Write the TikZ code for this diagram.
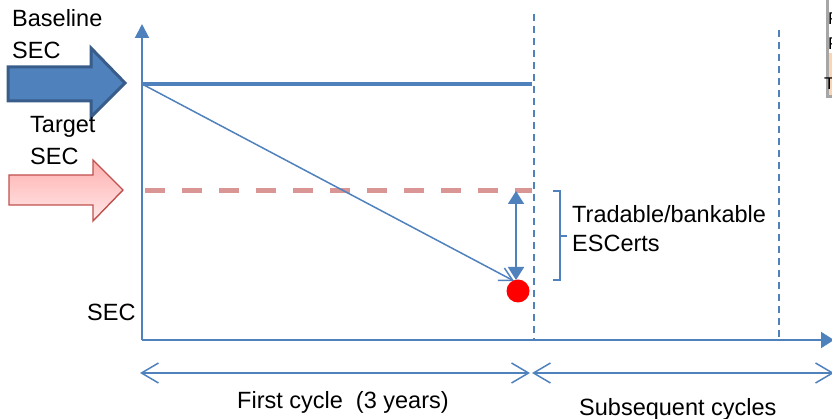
\documentclass[tikz,border=0pt]{standalone}
\usepackage{fontspec}
\setmainfont{Liberation Sans}
\usetikzlibrary{calc,positioning,arrows.meta}
\definecolor{axisblue}{HTML}{4F81BD}
\definecolor{darkblue}{HTML}{385D8A}
\definecolor{targetred}{HTML}{C0504D}
\definecolor{targetpink}{HTML}{D99694}
\definecolor{pinktop}{HTML}{FFAFAF}
\definecolor{pinkbot}{HTML}{FFE8E8}
\definecolor{peach}{HTML}{FCD5B4}
\definecolor{boxgray}{HTML}{A6A6A6}

\begin{document}
\begin{tikzpicture}[x=1pt,y=-1pt,
    font=\fontsize{23.5}{28}\selectfont,
    lbl/.style={anchor=base west, inner sep=0pt},
    axisline/.style={axisblue, line width=2pt},
    cycleline/.style={axisblue, line width=1.6pt, dash pattern=on 7pt off 5pt},
    spanarrow/.style={axisblue, line width=1.5pt,
        {Straight Barb[length=17pt,width=20pt]}-{Straight Barb[length=17pt,width=20pt]}}]
    \pgfmathsetmacro{\ax}{142}
    \pgfmathsetmacro{\ay}{340}
    \pgfmathsetmacro{\cyc}{534}
    \pgfmathsetmacro{\base}{84}
    \pgfmathsetmacro{\targ}{191}

    \clip (0,0) rectangle (832,419);

    \coordinate (O) at (\ax,\ay);
    \coordinate (Ytop) at (\ax,24);
    \coordinate (Xend) at (834,\ay);
    \coordinate (B0) at (\ax,\base);
    \coordinate (B1) at (532,\base);
    \coordinate (T0) at (145,\targ);
    \coordinate (T1) at (532,\targ);
    \coordinate (P) at (516,\targ);
    \coordinate (Q) at (516,280);
    \coordinate (C1top) at (\cyc,14);
    \coordinate (C1bot) at (\cyc,\ay);
    \coordinate (C2top) at (779,30);
    \coordinate (C2bot) at (779,\ay);

    % block arrows on the left
    \draw[darkblue, line width=3pt, fill=axisblue, line join=miter]
        (8,67) -- (91,67) -- (91,48) -- (125,83) -- (91,117) -- (91,101) -- (8,101) -- cycle;
    \draw[targetred, line width=1.4pt, top color=pinktop, bottom color=pinkbot]
        (9,175) -- (93,175) -- (93,160) -- (123,190) -- (93,221) -- (93,205) -- (9,205) -- cycle;

    % axes
    \draw[axisline, -{Triangle[length=14pt,width=14pt]}] (O) -- (Ytop);
    \draw[axisline, -{Triangle[length=13pt,width=16pt]}] (O) -- (Xend);

    % cycle limits
    \draw[cycleline] (C1top) -- (C1bot);
    \draw[cycleline] (C2top) -- (C2bot);

    % baseline and target
    \draw[axisblue, line width=4pt] (B0) -- (B1);
    \draw[targetpink, line width=5pt, dash pattern=on 20pt off 17pt] (T0) -- (T1);
    \draw[axisblue, line width=1.5pt, -{Straight Barb[length=13pt,width=14pt]}] (B0) -- (514,281);
    \draw[axisblue, line width=1.8pt,
        {Triangle[length=13pt,width=16pt]}-{Triangle[length=13pt,width=16pt]}] (P) -- (Q);
    \node[circle, fill=red, minimum size=23pt, inner sep=0pt] (dot) at (518,291) {};

    % bracket
    \draw[axisblue, line width=1.6pt] (553,191) -- (560,191) -- (560,280) -- (553,280)
        (560,236) -- (567,236);
    \node[lbl] (trade) at (572,223) {Tradable/bankable};
    \node[lbl] (escerts) at (572,252) {ESCerts};

    % labels
    \node[lbl] (basel) at (12,27) {Baseline};
    \node[lbl] (basesec) at (12,59) {SEC};
    \node[lbl] (targl) at (30,133) {Target};
    \node[lbl] (targsec) at (30,165) {SEC};
    \node[lbl] (axsec) at (87,320) {SEC};

    % cycles
    \coordinate (S0) at (140,373);
    \coordinate (S1) at (530,373);
    \coordinate (S2) at (532,373);
    \coordinate (S3) at (834,373);
    \draw[spanarrow] (S0) -- (S1);
    \draw[spanarrow] (S2) -- (S3);
    \node[lbl] (first) at (237,408) {First cycle\ \ (3 years)};
    \node[lbl] (subs) at (579,415) {Subsequent cycles};

    % edge of the next box
    \draw[boxgray, line width=3pt, fill=white] (827,-3) rectangle (860,97);
    \fill[peach] (828.5,53) rectangle (860,95.5);
    \node[lbl, font=\fontsize{17}{20}\selectfont] (pa) at (828,25) {P};
    \node[lbl, font=\fontsize{17}{20}\selectfont] (pb) at (828,50) {P};
    \node[lbl, font=\fontsize{17}{20}\selectfont] (pc) at (824,90) {T};
\end{tikzpicture}
\end{document}
